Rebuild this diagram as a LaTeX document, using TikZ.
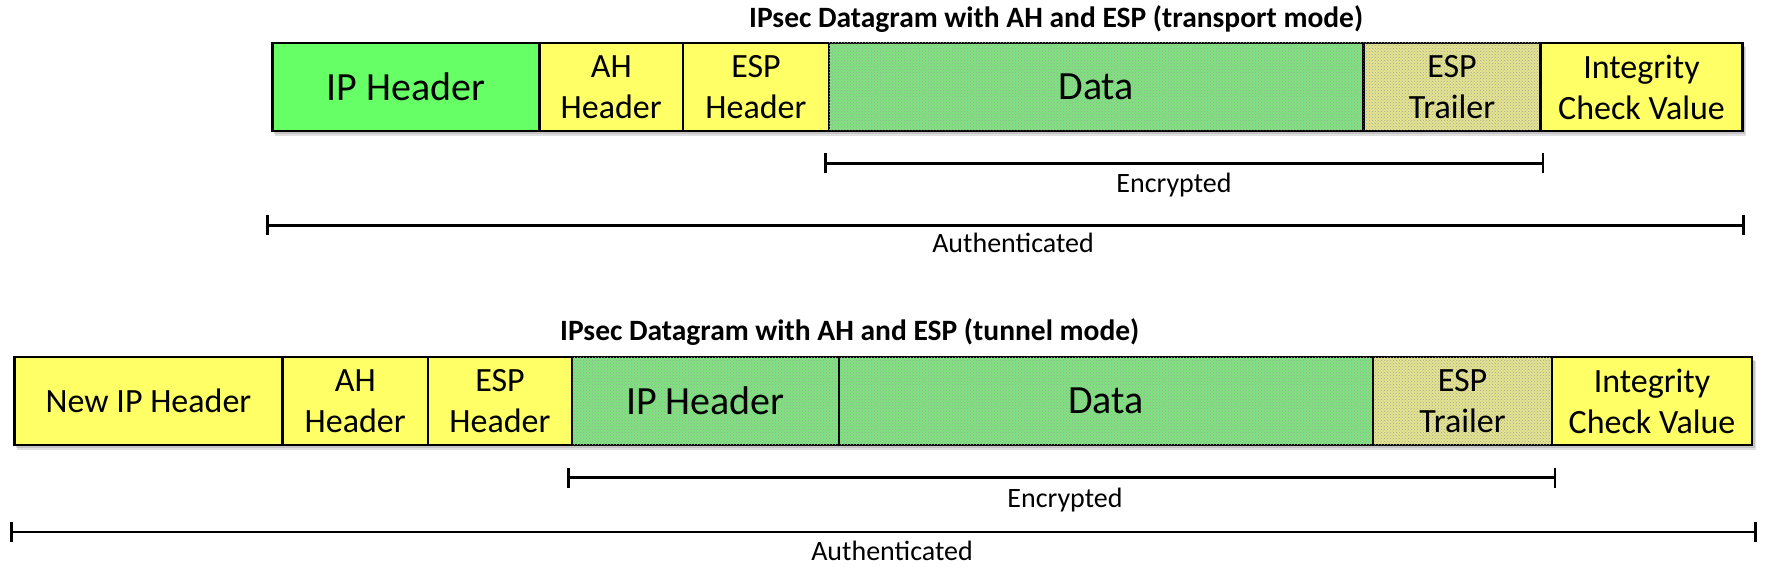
\documentclass[tikz,border=0pt]{standalone}
\usepackage{fontspec}
\setmainfont{Carlito}
\usetikzlibrary{patterns,arrows.meta}
\definecolor{brightgreen}{RGB}{102,255,102}
\definecolor{cellyellow}{RGB}{255,255,102}
\definecolor{patgreen}{RGB}{125,228,125}
\definecolor{patyellow}{RGB}{228,228,140}
\definecolor{dotgray}{RGB}{165,165,165}
\tikzset{
  cell/.style={draw=black, line width=2.5pt, inner sep=0pt, outer sep=0pt,
    minimum height=88pt, anchor=north west, align=center,
    font=\fontsize{34}{41}\selectfont, text=black},
  bigtext/.style={font=\fontsize{40}{48}\selectfont},
  yellowcell/.style={cell, fill=cellyellow},
  greencell/.style={cell, fill=brightgreen},
  encgreen/.style={cell, fill=patgreen, postaction={pattern=crosshatch dots, pattern color=dotgray}},
  encyellow/.style={cell, fill=patyellow, postaction={pattern=crosshatch dots, pattern color=dotgray}},
  bracket/.style={line width=2.5pt, {Bar[width=20pt,line width=2.5pt]}-{Bar[width=20pt,line width=2.5pt]}},
  spanlabel/.style={anchor=base, font=\fontsize{28}{34}\selectfont, inner sep=0pt},
  titlelabel/.style={anchor=base west, font=\bfseries\fontsize{29.5}{35}\selectfont, inner sep=0pt},
  shadowband/.style={fill=black, opacity=0.12},
}
\begin{document}
\begin{tikzpicture}[x=1pt,y=-1pt]
\useasboundingbox[fill=white] (0,0) rectangle (1767,569);
% shadows
\fill[shadowband] (275,47) rectangle (1746,136);
\fill[shadowband] (274,46) rectangle (1745,134);
\fill[shadowband] (17,361) rectangle (1756,450);
\fill[shadowband] (16,360) rectangle (1755,448);
% ---------- transport mode ----------
\node[titlelabel] (t1) at (749,27.5) {IPsec Datagram with AH and ESP (transport mode)};
\node[greencell, bigtext, minimum width=267pt] (a1) at (272.5,43) {IP Header};
\node[yellowcell, minimum width=143.5pt] (a2) at (539.5,43) {AH\\Header};
\node[yellowcell, minimum width=146pt] (a3) at (683,43) {ESP\\Header};
\node[encgreen, bigtext, minimum width=534.5pt] (a4) at (829,43) {Data};
\node[encyellow, minimum width=177pt] (a5) at (1363.5,43) {ESP\\Trailer};
\node[yellowcell, minimum width=202pt] (a6) at (1540.5,43) {Integrity\\Check Value};
\coordinate (e1a) at (824,163.5);
\coordinate (e1b) at (1544,163.5);
\draw[bracket] (e1a) -- (e1b);
\node[spanlabel] (e1) at (1174,193) {Encrypted};
\coordinate (u1a) at (266,225.5);
\coordinate (u1b) at (1744.5,225.5);
\draw[bracket] (u1a) -- (u1b);
\node[spanlabel] (u1) at (1013,252.5) {Authenticated};
% ---------- tunnel mode ----------
\node[titlelabel] (t2) at (560,341) {IPsec Datagram with AH and ESP (tunnel mode)};
\node[yellowcell, minimum width=268pt] (b1) at (14.5,357) {New IP Header};
\node[yellowcell, minimum width=145.5pt] (b2) at (282.5,357) {AH\\Header};
\node[yellowcell, minimum width=144pt] (b3) at (428,357) {ESP\\Header};
\node[encgreen, bigtext, minimum width=267pt] (b4) at (572,357) {IP Header};
\node[encgreen, bigtext, minimum width=534pt] (b5) at (839,357) {Data};
\node[encyellow, minimum width=179pt] (b6) at (1373,357) {ESP\\Trailer};
\node[yellowcell, minimum width=200pt] (b7) at (1552,357) {Integrity\\Check Value};
\coordinate (e2a) at (567,477.5);
\coordinate (e2b) at (1556,477.5);
\draw[bracket] (e2a) -- (e2b);
\node[spanlabel] (e2) at (1065,507) {Encrypted};
\coordinate (u2a) at (10,532);
\coordinate (u2b) at (1756.5,532);
\draw[bracket] (u2a) -- (u2b);
\node[spanlabel] (u2) at (892,560.5) {Authenticated};
\end{tikzpicture}
\end{document}
